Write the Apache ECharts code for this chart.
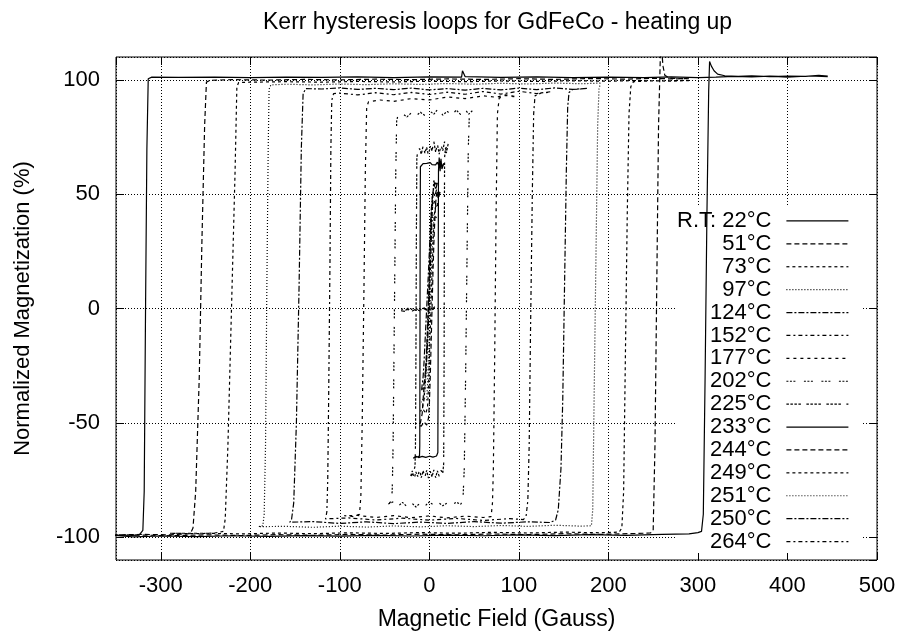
<!DOCTYPE html>
<html>
<head>
<meta charset="utf-8">
<script src="https://cdn.jsdelivr.net/npm/echarts@6/dist/echarts.min.js"></script>
<style>html,body{margin:0;padding:0;background:#fff;}#c{width:898px;height:631px;}</style>
</head>
<body>
<div id="c"></div>
<script>
// ---- data (field in Gauss, normalized magnetization in %) ----
const legendNames = ['R.T: 22°C','51°C','73°C','97°C','124°C','152°C','177°C','202°C','225°C','233°C','244°C','249°C','251°C','250°C','264°C'];

const rt22 = [[445,101.4],[425,101.7],[400,101.2],[380,101.6],[360,101.3],[340,101.5],[320,101.2],[300,101.0],[270,101.3],[240,101.0],[200,101.2],[160,101.0],[120,101.3],[80,101.1],[40,101.4],[37,104],[36,101.2],[0,101.3],[-40,101.0],[-80,101.3],[-120,101.1],[-160,101.2],[-200,101.0],[-240,101.2],[-280,101.1],[-310,101.2],[-314,100.5],[-315.5,70],[-317,0],[-318.5,-80],[-320,-97],[-324,-99],[-335,-99.4],[-352,-99.2],
  [-352,-99.6],[-330,-99.9],[-300,-99.5],[-260,-99.8],[-220,-99.4],[-180,-99.7],[-140,-99.3],[-100,-99.6],[-60,-99.2],[-20,-99.5],[20,-99.1],[60,-99.4],[100,-99.0],[140,-99.3],[180,-98.9],[220,-99.2],[260,-98.8],[290,-98.6],[300,-98.0],[304,-97.5],[306,-90],[308,-30],[310,40],[312,95],[313,108],[315,106],[318,104],[322,102.5],[330,101.8],[345,101.5],[360,101.8],[380,101.4],[400,101.7],[420,101.5],[435,102],[445,101.6]];
const t51 = [[290,100.6],[270,100.4],[250,100.7],[220,100.3],[180,100.6],[140,100.2],[100,100.5],[60,100.2],[20,100.4],[-20,100.1],[-60,100.3],[-100,100.0],[-140,100.2],[-180,99.9],[-220,100.1],[-245,99.8],[-249,99],[-251,80],[-254,30],[-257,-30],[-261,-80],[-264,-96],[-267,-98.5],[-290,-99],[-320,-98.8],[-352,-99],
  [-352,-99.3],[-320,-99.1],[-290,-99.4],[-250,-99.0],[-210,-99.3],[-170,-98.9],[-130,-99.2],[-90,-98.8],[-50,-99.1],[-10,-98.7],[30,-99.0],[70,-98.6],[110,-98.9],[150,-98.5],[190,-98.8],[230,-98.4],[247,-98.2],[250,-97],[252,-60],[254,10],[256,80],[258,110],[259.5,113],[261,106],[263,102],[268,100.8],[280,100.5],[290,100.7]];
const t73 = [[290,99.8],[260,99.5],[230,99.7],[200,99.4],[160,99.6],[120,99.3],[80,99.5],[40,99.2],[0,99.4],[-40,99.1],[-80,99.3],[-120,99.0],[-160,99.2],[-200,99.0],[-213,98.8],[-215,97],[-217,60],[-221,0],[-225,-60],[-228,-92],[-230,-97.5],[-240,-98.2],[-260,-98.5],[-290,-98.3],
  [-290,-98.6],[-250,-98.3],[-210,-98.6],[-170,-98.2],[-130,-98.5],[-90,-98.1],[-50,-98.4],[-10,-98.0],[30,-98.3],[70,-97.9],[110,-98.2],[150,-97.8],[190,-98.1],[212,-97.8],[215,-96],[217,-80],[219,-20],[221,40],[223,85],[225,97],[228,99.2],[250,99.6],[270,99.4],[290,99.7]];
const t97 = [[191,98.6],[170,98.3],[140,98.6],[110,98.2],[80,98.5],[50,98.1],[20,98.4],[-10,98.0],[-40,98.3],[-70,97.9],[-100,98.2],[-130,97.8],[-160,98.1],[-177,97.8],[-179,96],[-180,70],[-181.5,10],[-183,-60],[-184.5,-90],[-186,-95],[-191,-95.4],
  [-191,-95.6],[-160,-95.3],[-130,-95.7],[-100,-95.2],[-70,-95.6],[-40,-95.1],[-10,-95.5],[20,-95.0],[50,-95.4],[80,-94.9],[110,-95.3],[140,-94.8],[170,-95.2],[181,-95.0],[182.5,-88],[184,-40],[186,20],[188,80],[189.5,96],[191,98.4]];
const t124 = [[176,96.3],[160,95.8],[140,96.5],[120,95.7],[100,96.4],[80,95.6],[60,96.3],[40,95.5],[20,96.2],[0,95.6],[-20,96.4],[-40,95.7],[-60,96.3],[-80,95.8],[-100,96.5],[-120,96.0],[-138,96.2],[-141,94],[-143,70],[-145.5,10],[-148.5,-50],[-151.5,-85],[-154,-92.5],[-156,-93.5],
  [-156,-93.6],[-130,-93.2],[-100,-94.0],[-70,-93.3],[-40,-94.1],[-10,-93.4],[20,-94.0],[50,-93.2],[80,-93.9],[110,-93.3],[135,-93.6],[141,-92.5],[144,-88],[147,-70],[149,-40],[151,10],[153,60],[154.5,88],[156,94.5],[160,95.8],[176,96.2]];
const t152 = [[135,94.8],[120,94.0],[100,95.0],[80,93.8],[60,94.9],[40,93.7],[20,94.6],[0,93.6],[-20,94.5],[-40,93.5],[-60,94.4],[-80,93.4],[-100,94.2],[-107,94],[-109,91],[-110,70],[-111,20],[-112.5,-40],[-113.5,-75],[-114.5,-89],[-116,-92],
  [-116,-92.2],[-90,-91.6],[-60,-92.5],[-30,-91.7],[0,-92.6],[30,-91.8],[60,-92.7],[90,-91.9],[105,-92.3],[108,-91],[110,-84],[111.5,-60],[113,-10],[115,50],[116.5,85],[118,93],[125,94.3],[135,94.6]];
const t177 = [[95,92.8],[85,93.5],[75,92.4],[60,93.0],[40,91.8],[20,92.5],[0,91.2],[-20,91.8],[-40,90.6],[-55,91.2],[-68,90.4],[-70,88],[-71.5,60],[-73,10],[-75,-50],[-76.5,-82],[-78,-90],[-85,-91],[-95,-90.6],
  [-95,-91.2],[-80,-90.5],[-60,-91.4],[-40,-90.6],[-20,-91.5],[0,-90.7],[20,-91.6],[40,-90.8],[60,-91.4],[69,-91],[70.5,-85],[71.5,-70],[73,-20],[74.5,40],[76,85],[78,92],[85,93.2],[95,92.6]];
const t202 = [[48,86.5],[44,85],[40,87],[35,84.8],[30,86.8],[25,84.5],[20,86.2],[15,84.6],[10,87.5],[5,85.0],[0,86.5],[-5,84.4],[-10,85.8],[-15,84.2],[-20,85.6],[-25,83.8],[-30,85.2],[-35,84.6],[-36.5,82],[-37.5,60],[-39,0],[-40.5,-60],[-41.5,-80],[-43,-84.5],[-46,-85.5],
  [-46,-85.8],[-40,-84.5],[-35,-86.5],[-30,-84.8],[-25,-86.6],[-20,-84.9],[-15,-86.8],[-10,-85.0],[-5,-86.4],[0,-84.6],[5,-86.1],[10,-84.8],[15,-86.3],[20,-85.0],[25,-86.0],[30,-84.7],[35,-85.6],[37.5,-84],[39,-70],[40.5,-30],[42,20],[43.5,70],[44.6,84],[46,86],[48,86.3]];
const t225 = [[21,72],[19,68],[17,73],[15,69],[13,71.5],[11,67.5],[9,72],[7,68.5],[5,73],[3,69],[1,71],[-1,67],[-3,70.5],[-5,68],[-7,71],[-9,67.5],[-11,70],[-13,68.5],[-14,66],[-14.5,30],[-15,-20],[-15.5,-60],[-16,-69],[-18,-72],[-21,-73.5],
  [-21,-73],[-19,-71],[-17,-74.5],[-15,-71.5],[-13,-73.5],[-11,-70.5],[-9,-74],[-7,-71],[-5,-73.8],[-3,-70.8],[-1,-74.2],[1,-71.2],[3,-73.6],[5,-70.6],[7,-74],[9,-71],[11,-73.4],[13,-70.8],[15,-72],[16,-68],[16.5,-20],[16.7,30],[17,66],[18,70],[21,71.5]];
const t233 = [[16,63.5],[14,62],[12,64.5],[10.5,62.5],[9,64],[7,62.8],[5,63.6],[3,62.9],[1,63.8],[-1,63.0],[-3,63.5],[-5,62.8],[-7,63.4],[-9,63],[-10,62],[-10.3,30],[-10.5,-20],[-10.7,-60],[-11,-64.5],[-13,-65],[-18,-65.5],
  [-18,-65.3],[-15,-64.6],[-12,-65.2],[-8,-64.7],[-4,-65.1],[0,-64.6],[4,-65.0],[8,-64.5],[9.5,-63],[9.8,-20],[10,30],[10.2,60],[10.5,63],[11,66],[12,60],[13,65.5],[14,61],[16,63.2]];
const t244 = [[12,51],[10,48],[8,52],[6,49],[4,51],[3,47],[2,40],[1,28],[0,15],[-1,2],[-2,-8],[-3,-18],[-4,-25],[-5,-30],[-6,-34],[-7,-40],[-8,-46],[-10,-50],[-12,-51],
  [-12,-50.5],[-9,-51.5],[-6,-49.5],[-3,-51],[-1,-48],[0,-42],[1,-30],[2,-15],[3,0],[4,15],[5,28],[6,38],[7,46],[8,50],[10,51.5],[12,50.5]];
const t249 = [[10,46],[8,44],[6,47],[4,45],[2.5,42],[1.5,32],[0.5,20],[-0.5,8],[-1.5,-4],[-2.5,-15],[-3.5,-24],[-4.5,-32],[-6,-40],[-8,-44],[-10,-45],
  [-10,-45.5],[-7,-44],[-4,-46],[-2,-43],[-1,-35],[0,-22],[1,-10],[2,3],[3,15],[4,27],[5,37],[6,43],[8,46],[10,45.5]];
const t251 = [[8,40],[6,38.5],[4,41],[2,36],[1,25],[0,12],[-1,0],[-2,-12],[-3,-22],[-4,-30],[-5,-36],[-7,-40],[-9,-41],
  [-9,-40.5],[-6,-39],[-3,-40],[-2,-33],[-1,-22],[0,-10],[1,2],[2,14],[3,25],[4,33],[5,38],[7,40.5],[8,40]];
const t250 = [[9,55],[7,52],[5,56],[4,50],[3,40],[2,28],[1,15],[0,4],[-1,-6],[-2,-15],[-3,-22],[-4,-28],[-5,-31],[-6,-33],[-7,-35],[-8.5,-36],
  [-8.5,-35],[-7,-30],[-6,-24],[-5,-16],[-4,-8],[-3,0],[-2,8],[-1,16],[0,25],[1,34],[2,42],[3,48],[5,53],[7,55],[9,54]];
const t264 = [[6,0.8],[3,-0.5],[0,0.6],[-3,-0.8],[-6,0.4],[-9,-0.6],[-12,0.3],[-15,-0.9],[-18,0.2],[-21,-0.7],[-24,0.1],[-27,-1.0],[-30,-0.2],[-33,-0.9],[-35,-0.4],
  [-35,-1.2],[-31,-0.3],[-27,-1.3],[-23,-0.4],[-19,-1.1],[-15,-0.2],[-11,-1.0],[-7,0.1],[-3,-0.8],[1,0.3],[4,-0.5],[6,0.4]];

const loops = [rt22,t51,t73,t97,t124,t152,t177,t202,t225,t233,t244,t249,t251,t250,t264];

// ---- styles (gnuplot monochrome line types, cycling every 9) ----
const dashTypes = ['solid',[5,3],[3,3],[1,2],[6,2,2,2],[4,3,2,3],[3,4],[2,1.5,2,1.5,2,8.5],[2.5,1.5,2.5,1.5,2.5,1.5,2.5,5.5]];
const FONT = '"Liberation Sans", Arial, Helvetica, sans-serif';

const chart = echarts.init(document.getElementById('c'), null, {renderer: 'canvas'});

const series = loops.map((d, i) => ({
  type: 'line',
  name: legendNames[i],
  data: d,
  symbol: 'none',
  showSymbol: false,
  clip: true,
  silent: true,
  animation: false,
  z: 2,
  emphasis: {disabled: true},
  lineStyle: {color: '#000', width: 1.2, type: dashTypes[i % dashTypes.length]},
  itemStyle: {color: '#000'}
}));

const xBase = {type: 'value', min: -350, max: 500, splitNumber: 8};
const yBase = {type: 'value', min: -110, max: 110, splitNumber: 5};
const tickStyle = {show: true, inside: true, length: 8, lineStyle: {color: '#000', width: 1}};
const gridLine = {show: true, lineStyle: {color: '#000', width: 1, type: [1, 2]}};

chart.setOption({
  animation: false,
  backgroundColor: '#fff',
  title: {
    text: 'Kerr hysteresis loops for GdFeCo - heating up',
    left: 263, top: 11, padding: 0,
    textStyle: {fontFamily: FONT, fontSize: 23, fontWeight: 'normal', color: '#000', lineHeight: 24}
  },
  grid: {left: 116, right: 21, top: 57, bottom: 71, show: true, borderColor: '#000', borderWidth: 1, backgroundColor: 'transparent', containLabel: false, outerBoundsMode: 'none'},
  legend: {
    orient: 'vertical', align: 'right', right: 36, top: 206.5,
    itemWidth: 62, itemHeight: 10, itemGap: 0,
    padding: [3, 13, 0, 0], backgroundColor: '#fff', z: 1,
    selectedMode: false,
    textStyle: {fontFamily: FONT, fontSize: 22, color: '#000', lineHeight: 22.9, padding: [0, 10, 0, 0]},
    itemStyle: {opacity: 0, borderWidth: 0},
    lineStyle: {width: 1.2},
    data: legendNames
  },
  xAxis: [
    Object.assign({}, xBase, {
      position: 'bottom',
      name: 'Magnetic Field (Gauss)', nameLocation: 'middle', nameGap: 49,
      nameTextStyle: {fontFamily: FONT, fontSize: 23, color: '#000', lineHeight: 22},
      axisLine: {show: false, onZero: false},
      axisTick: tickStyle,
      axisLabel: {show: true, margin: 15, showMinLabel: false, fontFamily: FONT, fontSize: 22, color: '#000', lineHeight: 22},
      splitLine: gridLine
    }),
    Object.assign({}, xBase, {
      position: 'top',
      axisLine: {show: false, onZero: false},
      axisTick: tickStyle,
      axisLabel: {show: false},
      splitLine: {show: false}
    })
  ],
  yAxis: [
    Object.assign({}, yBase, {
      position: 'left',
      name: 'Normalized Magnetization (%)', nameLocation: 'middle', nameGap: 82,
      nameTextStyle: {fontFamily: FONT, fontSize: 22, color: '#000', lineHeight: 22},
      axisLine: {show: false, onZero: false},
      axisTick: tickStyle,
      axisLabel: {show: true, margin: 16, showMinLabel: false, showMaxLabel: false, fontFamily: FONT, fontSize: 22, color: '#000'},
      splitLine: gridLine
    }),
    Object.assign({}, yBase, {
      position: 'right',
      axisLine: {show: false, onZero: false},
      axisTick: tickStyle,
      axisLabel: {show: false},
      splitLine: {show: false}
    })
  ],
  series: series
});
</script>
</body>
</html>
